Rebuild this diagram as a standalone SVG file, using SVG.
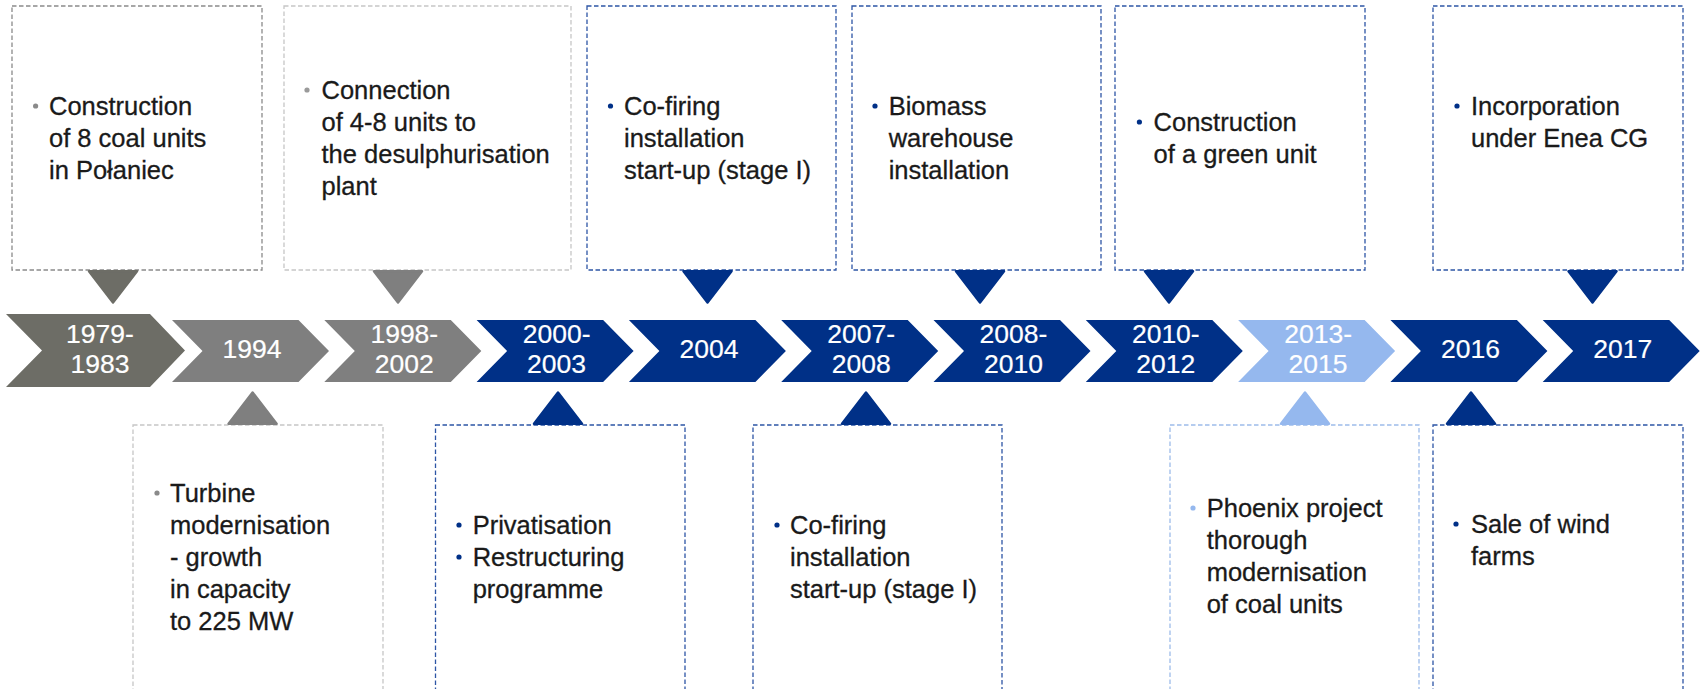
<svg xmlns="http://www.w3.org/2000/svg" width="1700" height="689" viewBox="0 0 1700 689">
<style>
  .t { font-family: "Liberation Sans", Arial, sans-serif; font-size: 25.5px; fill: #1a1a1a; stroke: #1a1a1a; stroke-width: 0.3; }
  .y { font-family: "Liberation Sans", Arial, sans-serif; font-size: 26.5px; fill: #ffffff; stroke: #ffffff; stroke-width: 0.2; text-anchor: middle; }
  .box { fill: #ffffff; stroke-width: 1.3; stroke-dasharray: 4.5 2.5; }
  .bg { stroke: #8a8a8a; }
  .bl { stroke: #c6c6c6; }
  .bb { stroke: #2d55a5; }
  .bs { stroke: #9dbcea; }
  .tri { stroke-width: 2.5; stroke-linejoin: round; }
  .dk { fill: #6d6d66; stroke: #6d6d66; }
  .gr { fill: #7f7f7f; stroke: #7f7f7f; }
  .nv { fill: #003087; stroke: #003087; }
  .lb { fill: #95b8ee; stroke: #95b8ee; }
  .cdk { fill: #6d6d66; }
  .cgr { fill: #7f7f7f; }
  .cnv { fill: #003087; }
  .clb { fill: #95b8ee; }
</style>
<defs>
  <path id="chev" d="M0,320 H126.5 L157,351 L126.5,382 H0 L30.5,351 Z"/>
</defs>
<rect width="1700" height="689" fill="#ffffff"/>

<!-- timeline chevrons -->
<g id="ch-1979-1983">
  <path class="cdk" d="M6,314 H150 L185,350.5 L150,387 H6 L42,350.5 Z"/>
  <text class="y" x="100" y="342.5">1979-</text>
  <text class="y" x="100" y="373">1983</text>
</g>
<g id="ch-1994">
  <use href="#chev" x="172" class="cgr"/>
  <text class="y" x="252" y="358.3">1994</text>
</g>
<g id="ch-1998-2002">
  <use href="#chev" x="324.3" class="cgr"/>
  <text class="y" x="404.3" y="342.5">1998-</text>
  <text class="y" x="404.3" y="373">2002</text>
</g>
<g id="ch-2000-2003">
  <use href="#chev" x="476.6" class="cnv"/>
  <text class="y" x="556.6" y="342.5">2000-</text>
  <text class="y" x="556.6" y="373">2003</text>
</g>
<g id="ch-2004">
  <use href="#chev" x="628.9" class="cnv"/>
  <text class="y" x="708.9" y="358.3">2004</text>
</g>
<g id="ch-2007-2008">
  <use href="#chev" x="781.2" class="cnv"/>
  <text class="y" x="861.2" y="342.5">2007-</text>
  <text class="y" x="861.2" y="373">2008</text>
</g>
<g id="ch-2008-2010">
  <use href="#chev" x="933.5" class="cnv"/>
  <text class="y" x="1013.5" y="342.5">2008-</text>
  <text class="y" x="1013.5" y="373">2010</text>
</g>
<g id="ch-2010-2012">
  <use href="#chev" x="1085.8" class="cnv"/>
  <text class="y" x="1165.8" y="342.5">2010-</text>
  <text class="y" x="1165.8" y="373">2012</text>
</g>
<g id="ch-2013-2015">
  <use href="#chev" x="1238.1" class="clb"/>
  <text class="y" x="1318.1" y="342.5">2013-</text>
  <text class="y" x="1318.1" y="373">2015</text>
</g>
<g id="ch-2016">
  <use href="#chev" x="1390.4" class="cnv"/>
  <text class="y" x="1470.4" y="358.3">2016</text>
</g>
<g id="ch-2017">
  <use href="#chev" x="1542.7" class="cnv"/>
  <text class="y" x="1622.7" y="358.3">2017</text>
</g>

<!-- event boxes (top) -->
<g id="box-1979">
  <rect class="box bg" x="12" y="6" width="250" height="264"/>
  <circle cx="35.6" cy="106" r="2.6" fill="#8a8a8a"/>
  <text class="t" x="49" y="115">Construction</text>
  <text class="t" x="49" y="147">of 8 coal units</text>
  <text class="t" x="49" y="179">in Połaniec</text>
</g>
<g id="box-1998">
  <rect class="box bl" x="284" y="6" width="287" height="264"/>
  <circle cx="307" cy="90" r="2.6" fill="#9a9a9a"/>
  <text class="t" x="321.5" y="99">Connection</text>
  <text class="t" x="321.5" y="131">of 4-8 units to</text>
  <text class="t" x="321.5" y="163">the desulphurisation</text>
  <text class="t" x="321.5" y="195">plant</text>
</g>
<g id="box-2004">
  <rect class="box bb" x="587" y="6" width="249" height="264"/>
  <circle cx="610.5" cy="106" r="2.6" fill="#003087"/>
  <text class="t" x="624" y="115">Co-firing</text>
  <text class="t" x="624" y="147">installation</text>
  <text class="t" x="624" y="179">start-up (stage I)</text>
</g>
<g id="box-2008">
  <rect class="box bb" x="852" y="6" width="249" height="264"/>
  <circle cx="875" cy="106" r="2.6" fill="#003087"/>
  <text class="t" x="888.7" y="115">Biomass</text>
  <text class="t" x="888.7" y="147">warehouse</text>
  <text class="t" x="888.7" y="179">installation</text>
</g>
<g id="box-2010">
  <rect class="box bb" x="1115" y="6" width="250" height="264"/>
  <circle cx="1139.4" cy="122" r="2.6" fill="#003087"/>
  <text class="t" x="1153.6" y="131">Construction</text>
  <text class="t" x="1153.6" y="163">of a green unit</text>
</g>
<g id="box-2017">
  <rect class="box bb" x="1433" y="6" width="250" height="264"/>
  <circle cx="1457" cy="106" r="2.6" fill="#003087"/>
  <text class="t" x="1471" y="115">Incorporation</text>
  <text class="t" x="1471" y="147">under Enea CG</text>
</g>

<!-- event boxes (bottom) -->
<g id="box-1994">
  <rect class="box bl" x="133" y="425" width="250" height="290"/>
  <circle cx="157" cy="493" r="2.6" fill="#8a8a8a"/>
  <text class="t" x="170" y="502">Turbine</text>
  <text class="t" x="170" y="534">modernisation</text>
  <text class="t" x="170" y="566">- growth</text>
  <text class="t" x="170" y="598">in capacity</text>
  <text class="t" x="170" y="630">to 225 MW</text>
</g>
<g id="box-2000">
  <rect class="box bb" x="435.5" y="425" width="249.5" height="290"/>
  <circle cx="459" cy="525" r="2.6" fill="#003087"/>
  <text class="t" x="472.7" y="534">Privatisation</text>
  <circle cx="459" cy="557" r="2.6" fill="#003087"/>
  <text class="t" x="472.7" y="566">Restructuring</text>
  <text class="t" x="472.7" y="598">programme</text>
</g>
<g id="box-2007">
  <rect class="box bb" x="753" y="425" width="249" height="290"/>
  <circle cx="777" cy="525" r="2.6" fill="#003087"/>
  <text class="t" x="790" y="534">Co-firing</text>
  <text class="t" x="790" y="566">installation</text>
  <text class="t" x="790" y="598">start-up (stage I)</text>
</g>
<g id="box-2013">
  <rect class="box bs" x="1170" y="425" width="249" height="290"/>
  <circle cx="1193" cy="508" r="2.6" fill="#95b8ee"/>
  <text class="t" x="1206.7" y="517">Phoenix project</text>
  <text class="t" x="1206.7" y="549">thorough</text>
  <text class="t" x="1206.7" y="581">modernisation</text>
  <text class="t" x="1206.7" y="613">of coal units</text>
</g>
<g id="box-2016">
  <rect class="box bb" x="1433" y="425" width="250" height="290"/>
  <circle cx="1456" cy="524" r="2.6" fill="#003087"/>
  <text class="t" x="1471" y="533">Sale of wind</text>
  <text class="t" x="1471" y="565">farms</text>
</g>

<!-- connectors: pointer triangles -->
<g id="connectors">
  <polygon class="tri dk" points="89,271.2 137,271.2 113,302.5"/>
  <polygon class="tri gr" points="374,271.2 422,271.2 398,302.5"/>
  <polygon class="tri nv" points="683.5,271.2 731.5,271.2 707.5,302.5"/>
  <polygon class="tri nv" points="956,271.2 1004,271.2 980,302.5"/>
  <polygon class="tri nv" points="1145,271.2 1193,271.2 1169,302.5"/>
  <polygon class="tri nv" points="1568.5,271.2 1616.5,271.2 1592.5,302.5"/>
  <polygon class="tri gr" points="228.6,423.8 276.6,423.8 252.6,392.5"/>
  <polygon class="tri nv" points="534,423.8 582,423.8 558,392.5"/>
  <polygon class="tri nv" points="842,423.8 890,423.8 866,392.5"/>
  <polygon class="tri lb" points="1281,423.8 1329,423.8 1305,392.5"/>
  <polygon class="tri nv" points="1447,423.8 1495,423.8 1471,392.5"/>
</g>
</svg>
